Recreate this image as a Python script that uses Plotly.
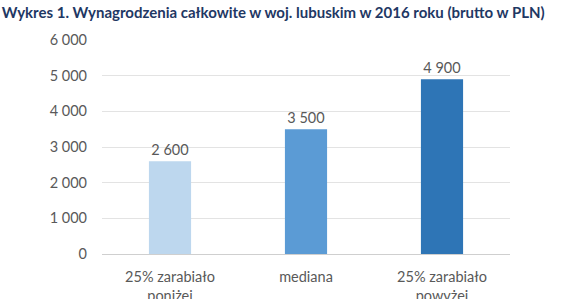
import plotly.graph_objects as go

categories = ["25% zarabiało<br>poniżej", "mediana", "25% zarabiało<br>powyżej"]
values = [2600, 3500, 4900]
colors = ["#BDD7EE", "#5B9BD5", "#2E75B6"]
y_ticks = [0, 1000, 2000, 3000, 4000, 5000, 6000]
title = "Wykres 1. Wynagrodzenia całkowite w woj. lubuskim w 2016 roku (brutto w PLN)"

fig = go.Figure(go.Bar(
    x=categories, y=values, marker=dict(color=colors, line=dict(width=0)),
    width=0.31, texttemplate="%{y:,d}", textposition="outside", cliponaxis=False,
    textfont=dict(family="Lato", size=14.5, color="#595959"),
))
fig.update_layout(
    width=567, height=299, margin=dict(l=102, r=57, t=40, b=45),
    paper_bgcolor="white", plot_bgcolor="white", separators=", ",
    showlegend=False,
    title=dict(text="<b>" + title + "</b>", x=0.003, xanchor="left", y=0.975, yanchor="top",
               font=dict(family="Lato", size=15, color="#1F3864")),
    font=dict(family="Lato", size=14.5, color="#595959"),
)
fig.update_yaxes(range=[0, 6000], tickvals=y_ticks, tickformat=",d", showgrid=True,
                 gridcolor="#E3E3E3", gridwidth=1, zeroline=False, showline=False,
                 automargin=False,
                 ticklabelstandoff=14, tickfont=dict(family="Lato", size=14.5, color="#595959"))
fig.update_xaxes(showline=True, linecolor="#CFCFCF", linewidth=1, ticks="",
                 automargin=False, ticklabelstandoff=10,
                 tickfont=dict(family="Lato", size=14.5, color="#595959"))
fig.write_html("out.html")
